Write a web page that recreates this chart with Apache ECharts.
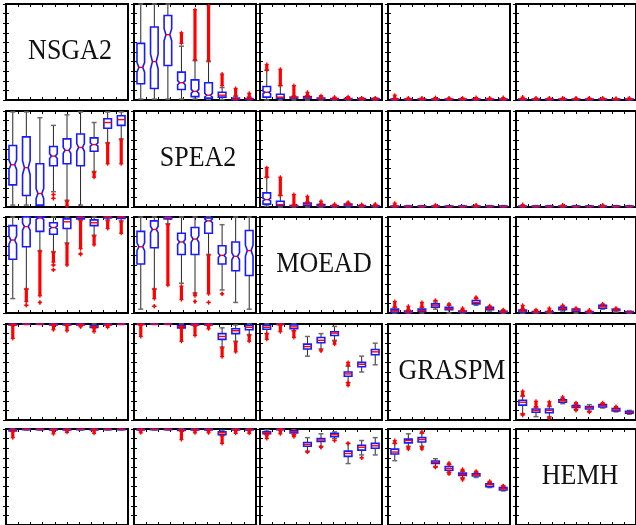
<!DOCTYPE html>
<html><head><meta charset="utf-8">
<script src="https://cdn.jsdelivr.net/npm/echarts@6/dist/echarts.min.js"></script>
<style>html,body{margin:0;padding:0;background:#fff}#chart{width:636px;height:525px}</style>
</head><body><div id="chart"></div>
<script>
// ---------------- DATA ----------------
const algorithms = ['NSGA2', 'SPEA2', 'MOEAD', 'GRASPM', 'HEMH'];
const runs = ['1', '2', '3', '4', '5', '6', '7', '8', '9'];
const tickCountX = 10;        // tick divisions on top/bottom
const yTickStep = 0.1;        // tick divisions on left/right

// boxes: [min, q1, median, q3, max] ; outliers: [boxIndex, low, high]
const p12_box = [[0.01,0.17,0.34,0.59,1.0],[0.01,0.12,0.40,0.76,1.0],[0.01,0.36,0.68,0.88,1.0],[0.01,0.11,0.18,0.29,0.56],[0.01,0.035,0.09,0.21,0.41],[0.005,0.02,0.05,0.18,0.40],[0.005,0.03,0.05,0.08,0.13],[0.002,0.005,0.01,0.02,0.04],[0.002,0.005,0.01,0.015,0.03]];
const p12_out = [[3,0.59,0.70],[4,0.42,0.94],[5,0.41,0.98],[6,0.15,0.27],[7,0.04,0.12],[8,0.03,0.07]];

const p13_box = [[0.0,0.03,0.08,0.14,0.31],[0.0,0.02,0.03,0.06,0.15],[0.0,0.02,0.025,0.03,0.04],[0.0,0.02,0.025,0.035,0.045],[0.0,0.01,0.015,0.02,0.03],[0.0,0.005,0.01,0.015,0.02],[0.0,0.005,0.01,0.015,0.02],[0.0,0.005,0.01,0.015,0.02],[0.0,0.005,0.01,0.015,0.02]];
const p13_out = [[0,0.31,0.37],[1,0.15,0.32],[2,0.04,0.15],[3,0.045,0.08],[4,0.03,0.045],[5,0.02,0.03],[6,0.02,0.035],[7,0.015,0.02],[8,0.015,0.02]];

const p14_box = [[0,0.003,0.006,0.01,0.015],[0,0.003,0.006,0.01,0.015],[0,0.003,0.006,0.01,0.015],[0,0.003,0.006,0.01,0.015],[0,0.003,0.006,0.01,0.015],[0,0.003,0.006,0.01,0.015],[0,0.003,0.006,0.01,0.015],[0,0.003,0.006,0.01,0.015],[0,0.003,0.006,0.01,0.015]];
const p14_out = [[0,0.015,0.05],[1,0.012,0.02],[2,0.012,0.02],[3,0.012,0.025],[4,0.012,0.02],[5,0.012,0.02],[6,0.012,0.025],[7,0.012,0.02],[8,0.012,0.025]];

const p15_box = [[0,0.003,0.006,0.01,0.015],[0,0.003,0.006,0.01,0.015],[0,0.003,0.006,0.01,0.015],[0,0.003,0.006,0.01,0.015],[0,0.003,0.006,0.01,0.015],[0,0.003,0.006,0.01,0.015],[0,0.003,0.006,0.01,0.015],[0,0.003,0.006,0.01,0.015],[0,0.003,0.006,0.01,0.015]];
const p15_out = [[0,0.015,0.03],[1,0.012,0.02],[2,0.012,0.02],[3,0.012,0.02],[4,0.012,0.02],[5,0.012,0.02],[6,0.012,0.02],[7,0.012,0.015],[8,0.012,0.02]];

const p21_box = [[0.02,0.23,0.44,0.64,0.99],[0.02,0.12,0.41,0.73,0.99],[0.02,0.02,0.14,0.45,0.93],[0.16,0.43,0.53,0.63,0.85],[0.07,0.45,0.59,0.71,0.96],[0.02,0.43,0.62,0.76,0.99],[0.37,0.58,0.65,0.72,0.88],[0.67,0.82,0.88,0.92,0.99],[0.71,0.85,0.91,0.95,0.99]];
const p21_out = [[3,0.13,0.13],[3,0.09,0.09],[4,0.01,0.06],[6,0.31,0.36],[7,0.45,0.66],[8,0.45,0.70]];

const p23_box = [[0.01,0.03,0.077,0.147,0.31],[0.0,0.015,0.025,0.06,0.12],[0.0,0.008,0.012,0.016,0.02],[0.0,0.015,0.03,0.04,0.05],[0.0,0.008,0.012,0.025,0.03],[0.0,0.006,0.01,0.014,0.02],[0.0,0.01,0.02,0.03,0.04],[0.0,0.006,0.01,0.014,0.02],[0.0,0.006,0.01,0.014,0.02]];
const p23_out = [[0,0.31,0.41],[1,0.12,0.31],[2,0.02,0.13],[3,0.05,0.11],[4,0.03,0.06],[5,0.02,0.03],[6,0.04,0.05],[7,0.02,0.025],[8,0.02,0.03]];

const p24_box = [[0,0.003,0.006,0.01,0.015],[0,0.003,0.006,0.01,0.015],[0,0.003,0.006,0.01,0.015],[0,0.003,0.006,0.01,0.015],[0,0.003,0.006,0.01,0.015],[0,0.003,0.006,0.01,0.015],[0,0.003,0.006,0.01,0.015],[0,0.003,0.006,0.01,0.015],[0,0.003,0.006,0.01,0.015]];
const p24_out = [[0,0.015,0.04],[3,0.012,0.02],[6,0.012,0.02]];

const p25_box = [[0,0.003,0.006,0.01,0.015],[0,0.003,0.006,0.01,0.015],[0,0.003,0.006,0.01,0.015],[0,0.003,0.006,0.01,0.015],[0,0.003,0.006,0.01,0.015],[0,0.003,0.006,0.01,0.015],[0,0.003,0.006,0.01,0.015],[0,0.003,0.006,0.01,0.015],[0,0.003,0.006,0.01,0.015]];
const p25_out = [[0,0.012,0.025],[3,0.012,0.02],[6,0.012,0.02]];

const p31_box = [[0.15,0.56,0.76,0.91,1.0],[0.25,0.69,0.90,1.0,1.0],[0.65,0.85,0.99,1.0,1.0],[0.64,0.82,0.89,0.94,1.0],[0.73,0.88,0.95,0.98,1.0],[0.97,0.98,0.995,1.0,1.0],[0.81,0.91,0.94,0.97,1.0],[0.97,0.99,1.0,1.0,1.0],[0.96,0.985,1.0,1.0,1.0]];
const p31_out = [[1,0.12,0.25],[1,0.08,0.08],[2,0.18,0.64],[2,0.11,0.11],[3,0.53,0.63],[3,0.50,0.50],[3,0.45,0.45],[4,0.50,0.72],[5,0.67,0.96],[5,0.61,0.62],[6,0.71,0.80],[7,0.88,0.96],[8,0.83,0.95]];

const p32_box = [[0.04,0.51,0.69,0.85,1.0],[0.25,0.68,0.87,0.96,1.0],[0.93,0.98,0.99,1.0,1.0],[0.31,0.61,0.74,0.83,1.0],[0.21,0.61,0.77,0.89,1.0],[0.61,0.83,0.96,0.99,1.0],[0.24,0.51,0.60,0.70,0.92],[0.11,0.44,0.59,0.74,1.0],[0.04,0.39,0.65,0.86,1.0]];
const p32_out = [[1,0.15,0.25],[1,0.07,0.07],[2,0.29,0.92],[3,0.14,0.28],[4,0.18,0.20],[4,0.12,0.12],[5,0.20,0.60],[5,0.11,0.11],[6,0.20,0.20]];

const p34_box = [[0.0,0.01,0.025,0.04,0.06],[0.0,0.005,0.01,0.02,0.03],[0.0,0.015,0.025,0.04,0.06],[0.04,0.06,0.075,0.095,0.115],[0.0,0.035,0.045,0.06,0.08],[0.0,0.008,0.015,0.02,0.03],[0.08,0.095,0.11,0.13,0.15],[0.02,0.035,0.045,0.06,0.065],[0.0,0.008,0.012,0.018,0.025]];
const p34_out = [[0,0.06,0.12],[1,0.03,0.07],[2,0.06,0.11],[3,0.13,0.13],[4,0.08,0.095],[5,0.03,0.05],[6,0.15,0.165],[7,0.065,0.075],[8,0.025,0.035]];

const p35_box = [[0.0,0.01,0.02,0.03,0.04],[0.0,0.006,0.01,0.015,0.02],[0.0,0.006,0.01,0.015,0.02],[0.02,0.035,0.045,0.06,0.07],[0.0,0.02,0.03,0.04,0.045],[0.0,0.006,0.01,0.015,0.02],[0.04,0.05,0.065,0.08,0.085],[0.01,0.025,0.03,0.04,0.045],[0.0,0.006,0.01,0.015,0.02]];
const p35_out = [[0,0.04,0.08],[1,0.02,0.035],[2,0.02,0.05],[3,0.07,0.08],[4,0.045,0.05],[5,0.02,0.03],[6,0.085,0.095],[7,0.045,0.05]];

const p41_box = [[0.985,0.99,0.995,1.0,1.0],[0.995,0.997,0.999,1.0,1.0],[0.995,0.997,0.999,1.0,1.0],[0.985,0.99,0.995,1.0,1.0],[0.985,0.99,0.995,1.0,1.0],[0.985,0.99,0.995,1.0,1.0],[0.96,0.965,0.975,0.985,1.0],[0.985,0.99,0.995,1.0,1.0],[0.995,0.997,0.999,1.0,1.0]];
const p41_out = [[0,0.85,0.985],[3,0.94,0.985],[4,0.93,0.985],[5,0.97,0.985],[6,0.92,0.96],[7,0.965,0.985]];

const p42_box = [[0.99,0.995,0.998,1.0,1.0],[0.995,0.997,0.999,1.0,1.0],[0.995,0.997,0.999,1.0,1.0],[0.96,0.96,0.975,0.985,1.0],[0.98,0.99,0.995,1.0,1.0],[0.985,0.99,0.995,1.0,1.0],[0.76,0.84,0.87,0.90,0.96],[0.82,0.90,0.93,0.95,0.99],[0.89,0.94,0.965,0.985,1.0]];
const p42_out = [[0,0.87,0.99],[3,0.82,0.96],[4,0.88,0.98],[5,0.95,0.985],[6,0.66,0.75],[7,0.71,0.81],[8,0.82,0.88]];

const p43_box = [[0.9,0.945,0.965,0.985,1.0],[0.99,0.995,0.998,1.0,1.0],[0.93,0.95,0.97,0.99,1.0],[0.665,0.74,0.765,0.79,0.87],[0.74,0.805,0.83,0.86,0.9],[0.83,0.88,0.905,0.92,0.975],[0.39,0.455,0.48,0.5,0.56],[0.5,0.555,0.58,0.6,0.665],[0.575,0.68,0.71,0.735,0.8]];
const p43_out = [[0,0.84,0.9],[1,0.92,0.99],[2,0.86,0.93],[4,0.72,0.73],[5,0.79,0.82],[6,0.57,0.6],[6,0.36,0.39]];

const p45_box = [[0.065,0.155,0.185,0.205,0.25],[0.035,0.08,0.1,0.115,0.135],[0.035,0.075,0.1,0.115,0.14],[0.17,0.185,0.2,0.21,0.22],[0.11,0.13,0.14,0.15,0.165],[0.09,0.115,0.13,0.14,0.16],[0.125,0.135,0.15,0.16,0.17],[0.085,0.095,0.105,0.12,0.13],[0.06,0.07,0.08,0.09,0.1]];
const p45_out = [[0,0.25,0.3],[0,0.05,0.065],[1,0.135,0.195],[2,0.15,0.19],[2,0.02,0.02],[3,0.22,0.24],[4,0.165,0.18],[4,0.1,0.11],[5,0.08,0.09],[6,0.17,0.18],[7,0.13,0.14]];

const p51_box = [[0.975,0.98,0.99,0.995,1.0],[0.99,0.993,0.996,1.0,1.0],[0.99,0.993,0.996,1.0,1.0],[0.985,0.99,0.995,1.0,1.0],[0.985,0.99,0.995,1.0,1.0],[0.99,0.993,0.996,1.0,1.0],[0.985,0.99,0.995,1.0,1.0],[0.99,0.993,0.996,1.0,1.0],[0.99,0.993,0.996,1.0,1.0]];
const p51_out = [[0,0.91,0.975],[3,0.95,0.985],[4,0.965,0.985],[6,0.955,0.985]];

const p52_box = [[0.985,0.99,0.995,1.0,1.0],[0.99,0.993,0.996,1.0,1.0],[0.99,0.993,0.996,1.0,1.0],[0.98,0.985,0.99,0.995,1.0],[0.985,0.99,0.995,1.0,1.0],[0.985,0.99,0.995,1.0,1.0],[0.93,0.94,0.96,0.97,0.985],[0.985,0.99,0.995,1.0,1.0],[0.985,0.99,0.995,1.0,1.0]];
const p52_out = [[0,0.96,0.985],[3,0.89,0.98],[4,0.96,0.985],[5,0.96,0.985],[6,0.85,0.93],[7,0.955,0.985],[8,0.955,0.985]];

const p53_box = [[0.94,0.95,0.96,0.97,0.99],[0.99,0.993,0.996,1.0,1.0],[0.94,0.96,0.97,0.98,0.99],[0.77,0.82,0.84,0.86,0.91],[0.82,0.87,0.885,0.9,0.95],[0.9,0.92,0.94,0.955,0.97],[0.64,0.715,0.745,0.77,0.85],[0.73,0.78,0.81,0.83,0.88],[0.73,0.8,0.825,0.85,0.91]];
const p53_out = [[0,0.9,0.94],[1,0.95,0.99],[2,0.92,0.94],[3,0.76,0.76],[4,0.81,0.81],[5,0.88,0.88],[6,0.85,0.85],[7,0.70,0.70]];

const p54_box = [[0.67,0.74,0.76,0.79,0.85],[0.82,0.855,0.88,0.895,0.95],[0.82,0.865,0.89,0.91,0.955],[0.61,0.64,0.653,0.667,0.69],[0.55,0.57,0.59,0.61,0.63],[0.49,0.516,0.526,0.54,0.56],[0.495,0.51,0.523,0.533,0.55],[0.39,0.40,0.42,0.43,0.445],[0.355,0.365,0.38,0.39,0.405]];
const p54_out = [[0,0.85,0.88],[1,0.79,0.81],[2,0.79,0.81],[2,0.96,0.97],[3,0.6,0.605],[4,0.63,0.645],[4,0.53,0.55],[5,0.56,0.58],[5,0.47,0.49],[6,0.55,0.56],[7,0.445,0.455],[8,0.405,0.41]];

const panelData = {
  '0-1': [p12_box, p12_out], '0-2': [p13_box, p13_out], '0-3': [p14_box, p14_out], '0-4': [p15_box, p15_out],
  '1-0': [p21_box, p21_out], '1-2': [p23_box, p23_out], '1-3': [p24_box, p24_out], '1-4': [p25_box, p25_out],
  '2-0': [p31_box, p31_out], '2-1': [p32_box, p32_out], '2-3': [p34_box, p34_out], '2-4': [p35_box, p35_out],
  '3-0': [p41_box, p41_out], '3-1': [p42_box, p42_out], '3-2': [p43_box, p43_out], '3-4': [p45_box, p45_out],
  '4-0': [p51_box, p51_out], '4-1': [p52_box, p52_out], '4-2': [p53_box, p53_out], '4-3': [p54_box, p54_out]
};

// ---------------- LAYOUT / STYLE ----------------
const colLeft = [6, 134, 260, 388, 516];
const rowTop = [4, 111, 217, 324, 429];
const panelW = 122, panelH = 96;

function renderBox(params, api) {
  const i = api.value(0);
  const p = [1, 2, 3, 4, 5].map(d => api.coord([i, api.value(d)]));
  const cx = p[0][0];
  const yMin = p[0][1], yQ1 = p[1][1], yMed = p[2][1], yQ3 = p[3][1], yMax = p[4][1];
  const hw = 3.8;
  const iqr = yQ1 - yQ3;
  const ch = [];
  const wStyle = { stroke: '#262626', lineWidth: 1 };
  ch.push({ type: 'line', shape: { x1: cx, y1: yQ3, x2: cx, y2: yMax }, style: wStyle });
  ch.push({ type: 'line', shape: { x1: cx, y1: yQ1, x2: cx, y2: yMin }, style: wStyle });
  const cStyle = { stroke: '#6a6a6a', lineWidth: 1.5 };
  ch.push({ type: 'line', shape: { x1: cx - 2.5, y1: yMax, x2: cx + 2.5, y2: yMax }, style: cStyle });
  ch.push({ type: 'line', shape: { x1: cx - 2.5, y1: yMin, x2: cx + 2.5, y2: yMin }, style: cStyle });
  let pts, inset = 0;
  if (iqr >= 10) {
    inset = 1.9;
    const n = iqr * 0.12;
    const na = Math.max(yMed - n, yQ3), nb = Math.min(yMed + n, yQ1);
    pts = [[cx - hw, yQ3], [cx + hw, yQ3], [cx + hw, na], [cx + hw - inset, yMed], [cx + hw, nb], [cx + hw, yQ1],
           [cx - hw, yQ1], [cx - hw, nb], [cx - hw + inset, yMed], [cx - hw, na]];
  } else {
    pts = [[cx - hw, yQ3], [cx + hw, yQ3], [cx + hw, yQ1], [cx - hw, yQ1]];
  }
  ch.push({ type: 'polygon', shape: { points: pts }, style: { fill: '#fff', stroke: '#1a1aff', lineWidth: 1.6 } });
  ch.push({ type: 'line', shape: { x1: cx - hw + inset, y1: yMed, x2: cx + hw - inset, y2: yMed }, style: { stroke: '#ff0000', lineWidth: 1.4 } });
  return { type: 'group', children: ch };
}

function renderOut(params, api) {
  const i = api.value(0);
  const lo = api.coord([i, api.value(1)]), hi = api.coord([i, api.value(2)]);
  const cx = lo[0];
  const ch = [];
  const red = { stroke: '#ff0000', lineWidth: 1.3 };
  if (lo[1] - hi[1] > 1) {
    ch.push({ type: 'rect', shape: { x: cx - 1.6, y: hi[1], width: 3.2, height: lo[1] - hi[1] }, style: { fill: '#ff0000' } });
  }
  [lo[1], hi[1]].forEach(y => {
    ch.push({ type: 'line', shape: { x1: cx - 2, y1: y, x2: cx + 2, y2: y }, style: red });
    ch.push({ type: 'line', shape: { x1: cx, y1: y - 2, x2: cx, y2: y + 2 }, style: red });
  });
  return { type: 'group', children: ch };
}

function tickAxisX(k, pos) {
  return { gridIndex: k, type: 'value', position: pos, min: 0, max: tickCountX, interval: 1,
    axisLine: { show: false }, axisLabel: { show: false }, splitLine: { show: false },
    axisTick: { show: true, inside: true, length: 3, lineStyle: { color: '#000', width: 1 } } };
}
function tickAxisY(k, pos) {
  return { gridIndex: k, type: 'value', position: pos, min: 0, max: 1, interval: yTickStep,
    axisLine: { show: false }, axisLabel: { show: false }, splitLine: { show: false },
    axisTick: { show: true, inside: true, length: 3, lineStyle: { color: '#000', width: 1 } } };
}

const grids = [], xAxes = [], yAxes = [], series = [], graphics = [];
let k = 0;
for (let r = 0; r < 5; r++) {
  for (let c = 0; c < 5; c++) {
    grids.push({ left: colLeft[c], top: rowTop[r], width: panelW, height: panelH, show: true,
      borderColor: '#000', borderWidth: 2, backgroundColor: '#fff', containLabel: false });
    xAxes.push({ gridIndex: k, type: 'category', data: runs, show: false, boundaryGap: true });
    xAxes.push(tickAxisX(k, 'bottom'));
    xAxes.push(tickAxisX(k, 'top'));
    yAxes.push(tickAxisY(k, 'left'));
    yAxes.push(tickAxisY(k, 'right'));
    if (r === c) {
      graphics.push({ type: 'text', x: colLeft[c] + panelW / 2 + 3, y: rowTop[r] + panelH / 2 - 1, scaleY: 1.1, z: 100,
        style: { text: algorithms[r], font: '26px "Liberation Serif", "Times New Roman", serif', fontSize: 26,
          fontFamily: '"Liberation Serif", serif', fill: '#111', align: 'center', verticalAlign: 'middle',
          textAlign: 'center', textVerticalAlign: 'middle' } });
    } else {
      const [boxes, outs] = panelData[r + '-' + c];
      series.push({ type: 'custom', xAxisIndex: 3 * k, yAxisIndex: 2 * k, renderItem: renderBox,
        encode: { x: 0, y: [1, 2, 3, 4, 5] }, clip: false, z: 2,
        data: boxes.map((b, i) => [i].concat(b)) });
      series.push({ type: 'custom', xAxisIndex: 3 * k, yAxisIndex: 2 * k, renderItem: renderOut,
        encode: { x: 0, y: [1, 2] }, clip: false, z: 3,
        data: outs.map(o => o.slice()) });
    }
    k++;
  }
}

const chart = echarts.init(document.getElementById('chart'), null, { renderer: 'canvas' });
chart.setOption({
  animation: false,
  backgroundColor: '#fff',
  grid: grids, xAxis: xAxes, yAxis: yAxes, series: series,
  graphic: { elements: graphics }
});
</script></body></html>
